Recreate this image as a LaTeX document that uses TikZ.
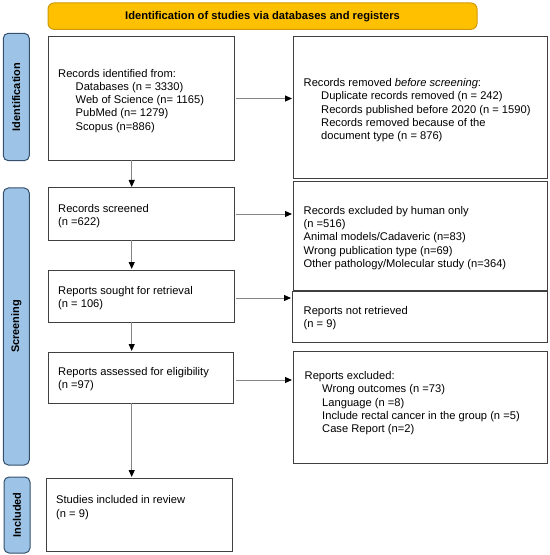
\documentclass[tikz,border=0pt]{standalone}
\usepackage{fontspec}
\setmainfont{Liberation Sans}
\usetikzlibrary{arrows.meta}
\definecolor{bannerfill}{HTML}{FFC000}
\definecolor{bannerdraw}{HTML}{CC9A06}
\definecolor{sidefill}{HTML}{9DC3E6}
\definecolor{sidedraw}{HTML}{34506C}
\definecolor{boxdraw}{HTML}{404040}
\definecolor{arrowgray}{HTML}{858585}
\newcommand{\ind}{\hspace*{17.5bp}}
\begin{document}
\begin{tikzpicture}[x=1bp,y=-1bp,
  box/.style={draw=boxdraw,line width=1bp,fill=white,inner sep=0,outer sep=0,anchor=north west},
  side/.style={draw=sidedraw,fill=sidefill,line width=1bp,rounded corners=5bp,inner sep=0,outer sep=0,anchor=north west},
  banner/.style={draw=bannerdraw,fill=bannerfill,line width=1bp,rounded corners=6bp,inner sep=0,outer sep=0,anchor=north west,font=\bfseries\fontsize{11.2}{13}\selectfont},
  txt/.style={inner sep=0,anchor=west,align=left,font=\fontsize{11.2}{13.3}\selectfont},
  sidetxt/.style={font=\bfseries\fontsize{11}{13}\selectfont,rotate=90,inner sep=0},
  link/.style={draw=arrowgray,line width=1bp,shorten >=1bp,-{Triangle[length=7bp,width=6bp,color=black]}},
]
\useasboundingbox (0,0) rectangle (550,555);
% banner
\node[banner,minimum width=429bp,minimum height=26.3bp] (ban) at (48,3) {Identification of studies via databases and registers};
% side labels
\node[side,minimum width=26bp,minimum height=127.4bp] (sid) at (3.3,33.3) {};
\node[sidetxt] (sidt) at (sid.center) {Identification};
\node[side,minimum width=26bp,minimum height=277bp] (sscr) at (3.3,188) {};
\node[sidetxt] (sscrt) at (sscr.center) {Screening};
\node[side,minimum width=26bp,minimum height=76bp] (sinc) at (4,477) {};
\node[sidetxt] (sinct) at (sinc.center) {Included};
% boxes
\node[box,minimum width=186bp,minimum height=123bp] (b1) at (48,37) {};
\node[box,minimum width=254bp,minimum height=141bp] (r1) at (293,37) {};
\node[box,minimum width=186bp,minimum height=52bp] (b2) at (48,188) {};
\node[box,minimum width=254bp,minimum height=108bp] (r2) at (293,182) {};
\node[box,minimum width=186bp,minimum height=52bp] (b3) at (48,270) {};
\node[box,minimum width=255bp,minimum height=51bp] (r3) at (292,291) {};
\node[box,minimum width=185bp,minimum height=51bp] (b4) at (48,352) {};
\node[box,minimum width=254bp,minimum height=112bp] (r4) at (293,351) {};
\node[box,minimum width=186bp,minimum height=73bp] (b5) at (46,478) {};
% texts
\node[txt] (t1) at (58,100.7) {Records identified from:\\\ind Databases (n = 3330)\\\ind Web of Science (n= 1165)\\\ind PubMed (n= 1279)\\\ind Scopus (n=886)};
\node[txt] (tr1) at (303.5,110.3) {Records removed \textit{before screening}:\\\ind Duplicate records removed (n = 242)\\\ind Records published before 2020 (n = 1590)\\\ind Records removed because of the\\\ind document type (n = 876)};
\node[txt] (t2) at (58,216) {Records screened\\(n =622)};
\node[txt] (tr2) at (303.5,238) {Records excluded by human only\\(n =516)\\Animal models/Cadaveric (n=83)\\Wrong publication type (n=69)\\Other pathology/Molecular study (n=364)};
\node[txt] (t3) at (58,298) {Reports sought for retrieval\\(n = 106)};
\node[txt] (tr3) at (303.5,318.3) {Reports not retrieved\\(n = 9)};
\node[txt] (t4) at (58,379.3) {Reports assessed for eligibility\\(n =97)};
\node[txt] (tr4) at (304.5,403.3) {Reports excluded:\\\ind Wrong outcomes (n =73)\\\ind Language (n =8)\\\ind Include rectal cancer in the group (n =5)\\\ind Case Report (n=2)};
\node[txt] (t5) at (56,507.7) {Studies included in review\\(n = 9)};
% horizontal arrows
\draw[link] ([xshift=2bp]b1.east) -- (b1.east -| r1.west);
\draw[link] ([xshift=2bp]b2.east) -- (b2.east -| r2.west);
\draw[link] ([xshift=2bp,yshift=-2bp]b3.east) -- ([yshift=-2bp]b3.east -| r3.west);
\draw[link] ([xshift=3bp,yshift=-2.5bp]b4.east) -- ([yshift=-2.5bp]b4.east -| r4.west);
% vertical arrows
\draw[link] ([xshift=-9.3bp]b1.south) -- ([xshift=-9.3bp]b1.south |- b2.north);
\draw[link] ([xshift=-9.3bp]b2.south) -- ([xshift=-9.3bp]b2.south |- b3.north);
\draw[link] ([xshift=-9.3bp]b3.south) -- ([xshift=-9.3bp]b3.south |- b4.north);
\draw[link] ([xshift=-8.8bp]b4.south) -- ([xshift=-8.8bp]b4.south |- b5.north);
\end{tikzpicture}
\end{document}
